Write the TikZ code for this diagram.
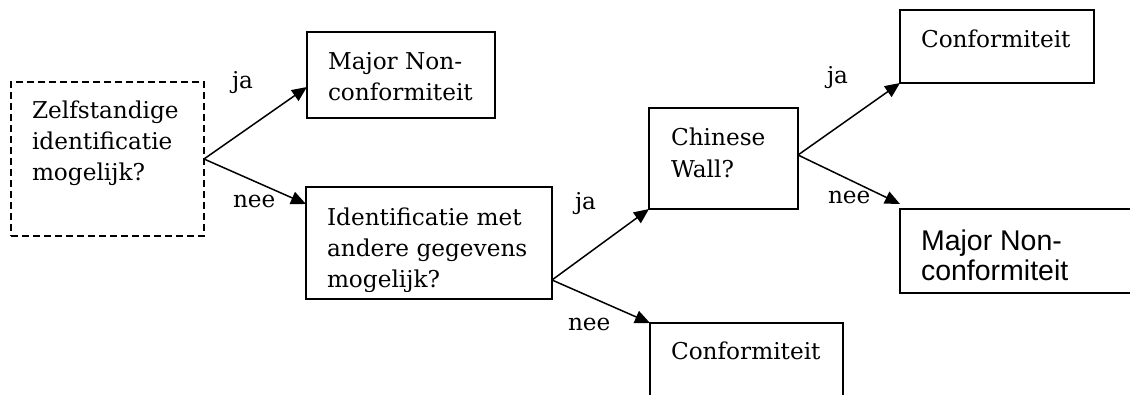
\documentclass[tikz,border=0pt]{standalone}
\usepackage{fontspec}
\setmainfont{DejaVu Serif}
\newfontfamily\arialf{Liberation Sans}
\usetikzlibrary{arrows.meta,calc}
\begin{document}
\begin{tikzpicture}[x=1pt,y=-1pt,
  box/.style={draw, line width=1.5pt, anchor=north west, inner sep=0pt, outer sep=0pt},
  dbox/.style={box, dash pattern=on 7pt off 4pt},
  txt/.style={anchor=base west, inner sep=0pt, outer sep=0pt, font=\fontsize{23.2}{31}\selectfont},
  stxt/.style={anchor=base west, inner sep=0pt, outer sep=0pt, font=\arialf\fontsize{28.5}{31}\selectfont},
  arr/.style={line width=1.5pt, -{Triangle[length=15pt,width=13pt]}}
]
\useasboundingbox (0,0) rectangle (1130,394);
\fill[white] (0,0) rectangle (1130,394);

% boxes
\node[dbox, minimum width=193pt, minimum height=154pt] (b1) at (11,82) {};
\node[box, minimum width=188pt, minimum height=86pt] (b2) at (307,32) {};
\node[box, minimum width=246pt, minimum height=112pt] (b3) at (306,187) {};
\node[box, minimum width=149pt, minimum height=101pt] (b4) at (649,108) {};
\node[box, minimum width=194pt, minimum height=73pt] (b5) at (900,10) {};
\node[box, minimum width=260pt, minimum height=84pt] (b6) at (900,209) {};
\node[box, minimum width=193pt, minimum height=100pt] (b7) at (650,323) {};

% texts
\node[txt] (t1a) at (32,118) {Zelfstandige};
\node[txt] (t1b) at (32,149) {identificatie};
\node[txt] (t1c) at (32,180) {mogelijk?};
\node[txt] (t2a) at (328,69) {Major Non-};
\node[txt] (t2b) at (328,100) {conformiteit};
\begin{scope}
  \clip (306,187) rectangle (552,291);
  \node[txt] (t3a) at (327,225) {Identificatie met};
  \node[txt] (t3b) at (327,256) {andere gegevens};
  \node[txt] (t3c) at (327,287) {mogelijk?};
\end{scope}
\node[txt] (t4a) at (671,145) {Chinese};
\node[txt] (t4b) at (671,177) {Wall?};
\node[txt] (t5) at (921,47) {Conformiteit};
\node[stxt] (t6a) at (921,250) {Major Non-};
\node[stxt] (t6b) at (921,280) {conformiteit};
\node[txt] (t7) at (671,359) {Conformiteit};

% labels
\node[txt] (l1) at (232,88) {ja};
\node[txt] (l2) at (233,207) {nee};
\node[txt] (l3) at (575,209) {ja};
\node[txt] (l4) at (568,330) {nee};
\node[txt] (l5) at (827,83) {ja};
\node[txt] (l6) at (828,203) {nee};

% connectors
\coordinate (s1) at (b1.east);
\coordinate (e1) at (b2.west |- 0,87);
\coordinate (e2) at (b3.west |- 0,204);
\coordinate (s3) at (b3.east |- 0,280);
\coordinate (s5) at (b4.east |- 0,155);
\coordinate (e6) at ([yshift=5pt]b6.north west);
\draw[arr] (s1) -- (e1);
\draw[arr] (s1) -- (e2);
\draw[arr] (s3) -- (b4.south west);
\draw[arr] (s3) -- (b7.north west);
\draw[arr] (s5) -- (b5.south west);
\draw[arr] (s5) -- (e6);
\end{tikzpicture}
\end{document}
